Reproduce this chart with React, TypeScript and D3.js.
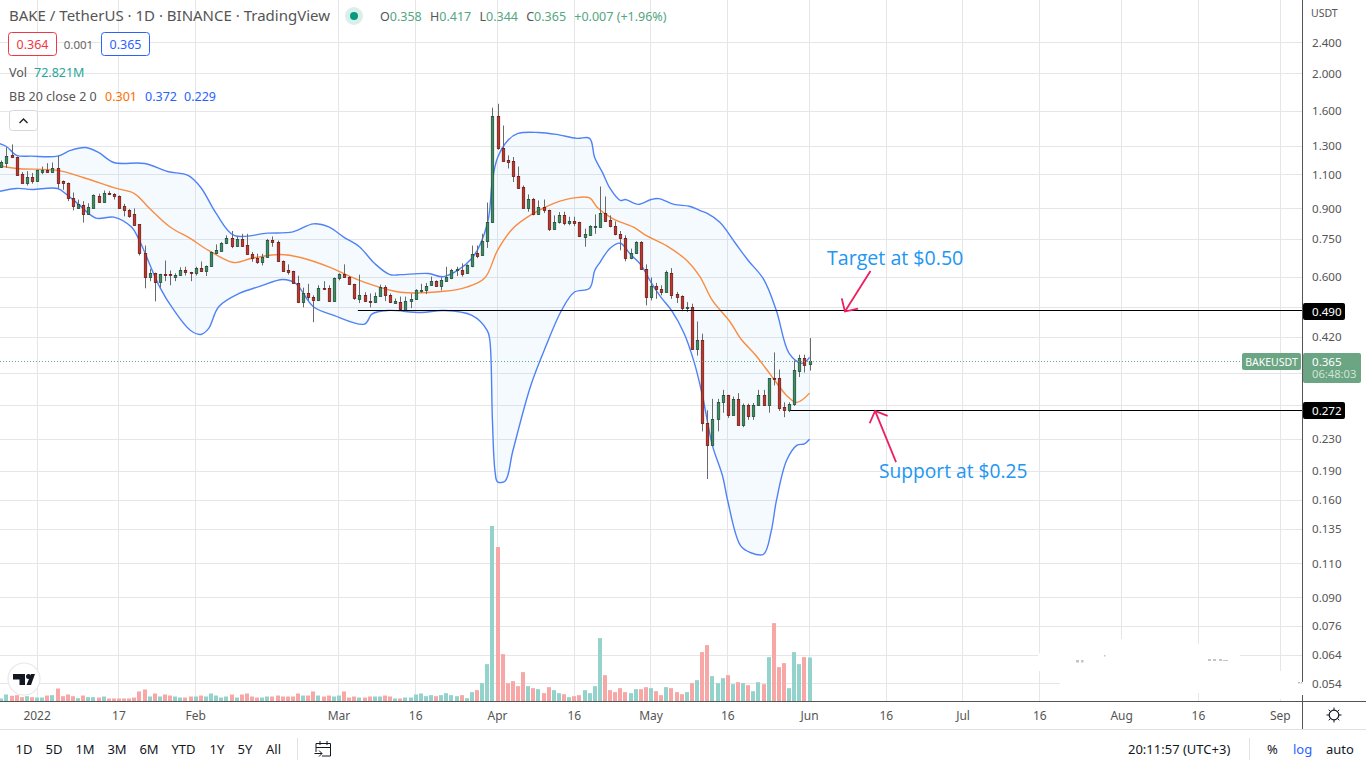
import * as d3 from "d3";

// daily candles, 25 Dec 2021 to 1 Jun 2022
const opens = [
  1.146,1.174,1.230,1.220,1.100,1.047,1.079,1.056,1.116,1.130,1.116,1.138,1.054,1.045,.956,.903,.918,.869,.902,.967,.932,.987,.977,.967,.913,.892,.867,.817,.692,.597,.614,.580,.611,.611,.600,.604,.625,.617,.612,.630,.619,.640,.690,
  .699,.731,.756,.721,.750,.725,.687,.671,.654,.673,.746,.737,.659,.623,.621,.579,.516,.545,.533,.522,.562,.562,.519,.595,.611,.599,.575,.524,.539,.520,.516,.536,.565,.539,.513,.517,.493,.520,.524,.553,.554,.571,.583,
  .568,.584,.594,.623,.624,.612,.638,.688,.680,.740,.827,1.549,1.288,1.193,1.186,1.090,1.017,.902,.952,.869,.907,.892,.795,.827,.862,.824,.832,.827,.758,.766,.806,.806,.874,.837,.811,.773,.756,.668,.690,.735,.628,.532,.566,.559,.548,.614,.541,.534,.498,
  .500,.390,.412,.252,.222,.259,.285,.298,.264,.291,.250,.281,.263,.280,.297,.280,.329,.329,.277,.272,.282,.343,.370,.358,
];
const highs = [
  1.193,1.290,1.312,1.222,1.114,1.120,1.108,1.130,1.151,1.174,1.179,1.227,1.060,1.047,.987,.946,.938,.926,.976,.980,.999,.995,.983,.970,.923,.895,.898,.817,.721,.628,.614,.610,.660,.622,.612,.634,.636,.617,.636,.656,.641,.696,.726,
  .736,.766,.786,.761,.773,.773,.694,.687,.687,.750,.761,.743,.660,.645,.621,.603,.562,.575,.537,.570,.584,.570,.597,.612,.645,.602,.575,.607,.547,.543,.546,.572,.570,.543,.527,.533,.533,.543,.557,.575,.578,.600,.587,
  .597,.636,.628,.636,.649,.645,.721,.721,.773,.930,1.631,1.669,1.467,1.230,1.218,1.151,1.029,.976,.956,.942,.947,.892,.862,.879,.881,.855,.855,.830,.797,.813,.867,1.023,.964,.862,.832,.786,.766,.708,.740,.740,.645,.597,.578,.570,.622,.631,.548,.537,.516,
  .511,.460,.428,.272,.291,.291,.307,.298,.295,.301,.283,.283,.284,.307,.307,.329,.383,.346,.285,.285,.365,.378,.378,.417,
];
const lows = [
  1.142,1.142,1.212,1.092,1.043,1.029,1.040,1.054,1.100,1.112,1.112,1.011,1.003,.938,.888,.897,.826,.864,.900,.930,.930,.972,.947,.900,.857,.850,.815,.680,.560,.584,.518,.562,.584,.570,.584,.603,.604,.584,.604,.618,.602,.636,.684,
  .698,.727,.710,.716,.718,.684,.655,.647,.641,.671,.716,.654,.618,.607,.575,.513,.500,.521,.458,.519,.555,.517,.517,.587,.595,.571,.523,.513,.517,.500,.513,.534,.519,.513,.511,.493,.491,.498,.523,.545,.541,.569,.565,
  .553,.583,.591,.602,.600,.610,.634,.669,.678,.711,.824,1.271,1.188,1.138,1.050,1.009,.902,.881,.862,.867,.874,.786,.792,.821,.813,.813,.809,.758,.716,.763,.773,.803,.830,.803,.766,.701,.657,.665,.687,.625,.506,.521,.526,.537,.547,.526,.513,.489,.487,
  .389,.376,.240,.181,.222,.240,.268,.260,.264,.250,.246,.257,.257,.279,.279,.268,.315,.271,.261,.269,.279,.331,.340,.344,
];
const closes = [
  1.179,1.227,1.218,1.097,1.047,1.079,1.054,1.125,1.130,1.116,1.138,1.047,1.043,.954,.910,.920,.869,.907,.970,.932,.987,.977,.966,.903,.890,.857,.815,.690,.597,.614,.580,.610,.608,.604,.607,.625,.616,.612,.630,.621,.640,.693,.701,
  .733,.756,.718,.750,.721,.687,.669,.654,.675,.746,.736,.657,.621,.618,.579,.517,.545,.532,.523,.562,.557,.519,.595,.611,.597,.575,.528,.539,.519,.516,.536,.565,.539,.516,.520,.495,.520,.527,.555,.555,.569,.586,.566,
  .587,.597,.624,.628,.611,.641,.684,.677,.742,.830,1.549,1.283,1.188,1.181,1.087,1.013,.902,.952,.869,.907,.890,.795,.827,.862,.824,.832,.824,.763,.771,.809,.809,.874,.833,.810,.770,.754,.671,.692,.735,.627,.532,.566,.557,.548,.617,.538,.532,.498,.500,
  .390,.412,.252,.222,.258,.286,.298,.265,.291,.250,.281,.263,.281,.297,.280,.329,.327,.276,.272,.283,.345,.370,.355,.365,
];
// volume in millions
const volumes = [
  5,11.6,9.4,10.5,7.2,8.8,7.2,6.6,6.6,9.9,10.5,21.5,8.8,11.6,8.8,5.5,9.9,7.2,7.2,6.6,8.3,5,5,5,5,5,6.6,16.6,19.9,8.3,13.2,8.3,11.6,9.9,8.3,6.6,6.6,8.3,8.3,9.9,8.3,13.2,9.9,
  6.6,8.3,11.6,6.6,11.6,13.2,8.3,6.6,6.6,8.3,8.3,9.9,8.3,8.3,8.3,13.2,9.9,9.9,16.6,9.9,8.3,9.9,8.3,9.9,16.6,6.6,8.3,6.6,6.6,8.3,8.3,8.3,9.9,8.3,5,5,6.6,6.6,11.6,13.2,
  8.8,10.5,8.8,10.5,13.8,10.5,8.8,10.5,5.5,15.5,18.8,30.4,61.8,290.4,255.6,78.4,30.4,33.7,25.4,48.6,25.4,22.1,20.4,13.8,23.7,18.8,13.8,12.1,7.2,8.8,10.5,18.8,13.8,25.4,104.9,43.6,18.8,15.5,22.1,15.5,13.8,20.4,20.4,23.7,22.1,17.1,10.5,23.7,22.1,15.5,12.1,15.5,
  30.4,35.3,81.7,93.3,42,30.4,38.6,43.6,28.7,32,30.4,27,17.1,32,28.7,73.4,129.7,56.9,63.5,22.1,81.7,61.8,73.4,72.8,
];

// Bollinger bands: day number from the first candle, price
const upperDays = [-0.5,1,3,6,11,13.5,16.5,19,22,28,32.5,36.5,39,42,45.5,52,57,61,64,67,70,73,76,78,83.5,86.5,92,95,96,97,99,101,105,108.5,112.5,115,116,117.5,119,121,122,124.5,127,128.5,131.5,134.5,136.5,138,140.5,143.5,146,149,151.5,154,156.5,158];
const upperBand = [1.32,1.296,1.23,1.224,1.224,1.266,1.288,1.251,1.179,1.172,1.118,1.092,1.017,.872,.766,.776,.782,.82,.805,.757,.716,.648,.607,.607,.611,.6,.669,.819,1.06,1.212,1.343,1.4,1.408,1.392,1.36,1.36,1.212,1.112,1.011,.942,.947,.92,.947,.952,.92,.91,.888,.872,.827,.731,.66,.591,.491,.381,.359,.372];
const lowerDays = [-0.5,3,6,11,13,15,18.5,22,25.5,27,31,33.5,37,39,40.5,42.5,46.5,50.5,55,57.5,61,65,71,72.5,75.5,82,86.5,92,95,95.5,96,96.5,97,98.5,100,103.5,106.5,109.5,112,115,116,117,119,121,123,125,127,129,131,133.5,135.5,137,139,141,142,144.5,146.5,149,150.5,151.5,153.5,155.5,157,158];
const lowerBand = [.993,1.011,1.005,1.011,.97,.923,.848,.853,.803,.743,.563,.497,.436,.426,.441,.502,.543,.566,.59,.577,.502,.477,.453,.481,.491,.485,.491,.477,.436,.411,.256,.19,.178,.179,.214,.315,.399,.491,.547,.56,.622,.652,.71,.731,.684,.644,.58,.53,.491,.428,.359,.299,.221,.184,.159,.122,.117,.116,.133,.159,.202,.221,.223,.229];
const basisDays = [-0.5,3,11,16,22.5,26,29,33,37,40.5,45.5,49,54.5,58.5,64.5,68,71.5,78,86.5,91,94.5,97,100,104,108,112,115,116.5,119.5,123.5,126,130,134,136.5,139,142.5,144.5,147.5,150.5,153.5,155.5,158];
const basisBand = [1.158,1.138,1.125,1.079,1.011,.981,.898,.805,.751,.701,.652,.669,.684,.672,.632,.602,.577,.547,.55,.564,.595,.701,.798,.872,.926,.956,.956,.903,.846,.805,.766,.721,.66,.602,.521,.458,.416,.376,.334,.297,.285,.301];

const priceTicks = [2.4,2,1.6,1.3,1.1,.9,.75,.6,.5,.42,.34,.28,.23,.19,.16,.135,.11,.09,.076,.064,.054];
// these two labels sit fully behind the price tags in the reference
const hiddenLabels = [.5,.34];
const timeTicks: [string, string][] = [
  ["2022-01-01","2022"],["2022-01-17","17"],["2022-02-01","Feb"],["2022-03-01","Mar"],["2022-03-16","16"],["2022-04-01","Apr"],["2022-04-16","16"],["2022-05-01","May"],["2022-05-16","16"],["2022-06-01","Jun"],["2022-06-16","16"],["2022-07-01","Jul"],["2022-07-16","16"],["2022-08-01","Aug"],["2022-08-16","16"],["2022-09-01","Sep"],
];
const rangeButtons: [string, number][] = [["1D",24],["5D",54],["1M",85],["3M",117],["6M",149],["YTD",183.5],["1Y",217],["5Y",245],["All",273.5]];

const W = 1366;
const H = 768;
const AXIS_X = 1302.5;
const BASE_Y = 701.5;
const FONT = "'Noto Sans', sans-serif";
const GRID = "#e6e6e9";
const TEXT = "#555";

const firstDay = new Date(Date.UTC(2021, 11, 25));
const dayAt = (i: number) => new Date(firstDay.getTime() + i * 864e5);

const x = d3.scaleUtc().domain([firstDay, new Date(Date.UTC(2022, 5, 1))]).range([1.3, 809.6]);
const y = d3.scaleLog().domain([0.054, 2.4]).range([683.4, 42.4]);
const volY = d3.scaleLinear().domain([0, 290.4]).range([BASE_Y, 526]);

const bandPoints = (days: number[], vals: number[]) =>
  days.map((d, i) => [x(dayAt(d)), y(vals[i])] as [number, number]);
const line = d3.line();
const smooth = d3.line().curve(d3.curveCatmullRom.alpha(0.5));

const upperPts = bandPoints(upperDays, upperBand);
const lowerPts = bandPoints(lowerDays, lowerBand);
const basisPts = bandPoints(basisDays, basisBand);
const bandFill =
  (smooth(upperPts) ?? "") + "L" + (smooth([...lowerPts].reverse()) ?? "").slice(1) + "Z";

const snap = (v: number) => Math.round(v) + 0.5;

function PriceTag({ cy, label }: { cy: number; label: string }) {
  return (
    <g>
      <rect x={AXIS_X + 0.5} y={cy - 8.5} width={42} height={17} rx={2} fill="#000" />
      <text x={1312} y={cy + 4.5} fontSize={11.6} fill="#fff" fontFamily={FONT}>{label}</text>
    </g>
  );
}

function Arrow({ from, tip }: { from: [number, number]; tip: [number, number] }) {
  const x1 = x(dayAt(from[0]));
  const y1 = y(from[1]);
  const x2 = x(dayAt(tip[0]));
  const y2 = y(tip[1]);
  const a = Math.atan2(y2 - y1, x2 - x1);
  const head = (d: number) => [x2 - 13.5 * Math.cos(a + d), y2 - 13.5 * Math.sin(a + d)] as [number, number];
  return (
    <g stroke="#ec1f5f" strokeWidth={1.8} fill="none">
      <path d={line([[x1, y1], [x2, y2]]) ?? ""} />
      <path d={line([head(0.8), [x2, y2], head(-0.8)]) ?? ""} />
    </g>
  );
}

export default function App() {
  const lastY = y(0.365);
  const targetY = snap(y(0.49) - 0.4);
  const supportY = snap(y(0.272) - 0.4);
  const greenVol = "#93d3cc";
  const redVol = "#f7a8a6";

  return (
    <svg width={W} height={H} style={{ position: "fixed", left: 0, top: 0, background: "#fff" }} fontFamily={FONT}>
      {/* grid */}
      <g stroke={GRID} strokeWidth={1}>
        {priceTicks.map((p) => <line key={p} x1={0} x2={AXIS_X} y1={snap(y(p))} y2={snap(y(p))} />)}
        {timeTicks.map(([d]) => {
          const gx = snap(x(new Date(d + "T00:00:00Z")) - 0.6);
          return <line key={d} x1={gx} x2={gx} y1={0} y2={BASE_Y} />;
        })}
      </g>
      {/* erased watermark patches */}
      <g fill="#fff">
        <rect x={1038} y={653} width={202} height={18} />
        <rect x={1060} y={671} width={238} height={22} />
        <rect x={1110} y={639} width={20} height={62} />
        <rect x={1190} y={644} width={15} height={49} />
        <rect x={1270} y={679} width={20} height={20} />
      </g>
      <g fill="#c4c4c4">
        <rect x={1104} y={655} width={1.5} height={1.5} />
        <rect x={1076} y={660} width={3} height={2.5} />
        <rect x={1081} y={660} width={2.5} height={2.5} />
        <rect x={1208} y={659} width={3} height={2} />
        <rect x={1213} y={659} width={3} height={2} />
        <rect x={1219} y={659} width={3} height={2} />
        <rect x={1223} y={660} width={5} height={1} />
      </g>

      {/* bands */}
      <path d={bandFill} fill="#2196f3" fillOpacity={0.05} />
      <path d={smooth(lowerPts) ?? ""} fill="none" stroke="#4f82f7" strokeWidth={1.4} />
      <path d={smooth(upperPts) ?? ""} fill="none" stroke="#4f82f7" strokeWidth={1.4} />
      <path d={smooth(basisPts) ?? ""} fill="none" stroke="#fb8c3f" strokeWidth={1.4} />

      {/* volume */}
      {volumes.map((v, i) => {
        const cx = x(dayAt(i));
        const top = volY(v);
        return (
          <rect key={i} x={Math.round(cx) - 2} y={top} width={4} height={BASE_Y - top}
            fill={closes[i] >= opens[i] ? greenVol : redVol} />
        );
      })}

      {/* candles */}
      {opens.map((o, i) => {
        const c = closes[i];
        const cx = Math.round(x(dayAt(i))) + 0.5;
        const up = c >= o;
        const top = Math.round(y(Math.max(o, c))) + 0.5;
        const bot = Math.round(y(Math.min(o, c))) + 0.5;
        return (
          <g key={i}>
            <line x1={cx} x2={cx} y1={y(highs[i])} y2={y(lows[i])} stroke="#6a6a6a" />
            <rect x={cx - 1.2} y={top} width={2.4} height={Math.max(bot - top, 1)}
              fill={up ? "#3d8f63" : "#c4352a"} stroke={up ? "#1f4f38" : "#6e1a14"} strokeWidth={0.8} />
          </g>
        );
      })}

      {/* last price line and drawn levels */}
      <line x1={0} x2={1243} y1={snap(lastY)} y2={snap(lastY)} stroke="#6ba583" strokeDasharray="1 2" />
      <line x1={x(dayAt(69.7))} x2={AXIS_X} y1={targetY} y2={targetY} stroke="#000" strokeWidth={1} />
      <line x1={x(dayAt(154.2))} x2={AXIS_X} y1={supportY} y2={supportY} stroke="#000" strokeWidth={1} />
      <Arrow from={[169.9, 0.62]} tip={[164.9, 0.488]} />
      <Arrow from={[174.9, 0.2]} tip={[170.8, 0.271]} />
      <text x={827} y={264.5} fontSize={19.6} fill="#2196f3" fontFamily="'Open Sans', sans-serif">Target at $0.50</text>
      <text x={879} y={478} fontSize={19.2} fill="#2196f3" fontFamily="'Open Sans', sans-serif">Support at $0.25</text>

      {/* axes */}
      <line x1={0} x2={W} y1={BASE_Y} y2={BASE_Y} stroke="#555" />
      <line x1={AXIS_X} x2={AXIS_X} y1={0} y2={682} stroke="#555" />
      <line x1={AXIS_X} x2={AXIS_X} y1={695} y2={729} stroke="#555" />
      <line x1={1298} x2={1302} y1={682.5} y2={682.5} stroke="#bbb" strokeDasharray="2 1" />
      <line x1={0} x2={W} y1={729.5} y2={729.5} stroke="#e0e0e6" />
      <text x={1311} y={17} fontSize={10.5} fill={TEXT}>USDT</text>
      {priceTicks.filter((p) => !hiddenLabels.includes(p)).map((p) => (
        <text key={p} x={1312} y={y(p) + 4.5} fontSize={11.6} fill={TEXT}>{p.toFixed(3)}</text>
      ))}
      {timeTicks.map(([d, label]) => (
        <text key={d} x={x(new Date(d + "T00:00:00Z"))} y={719.5} fontSize={12} fill={TEXT} textAnchor="middle">{label}</text>
      ))}

      {/* price tags */}
      <PriceTag cy={311.5} label="0.490" />
      <PriceTag cy={410.5} label="0.272" />
      <rect x={1242} y={353} width={59} height={17} rx={2} fill="#6ba583" />
      <text x={1271.5} y={365.5} fontSize={10.5} fill="#fff" textAnchor="middle">BAKEUSDT</text>
      <rect x={AXIS_X + 0.5} y={353} width={58} height={30} rx={2} fill="#6ba583" />
      <text x={1312} y={365.5} fontSize={11.6} fill="#fff">0.365</text>
      <text x={1312} y={378} fontSize={11.2} fill="#d0e4d7">06:48:03</text>

      {/* header legend */}
      <text x={9} y={21} fontSize={15} fill="#555">BAKE / TetherUS · 1D · BINANCE · TradingView</text>
      <circle cx={354} cy={16} r={9} fill="#d9f0ea" />
      <circle cx={354} cy={16} r={4} fill="#089981" />
      <text x={380} y={21} fontSize={12.5} fill="#53a67f">
        <tspan fill="#555">O</tspan>0.358 <tspan fill="#555" dx={5}>H</tspan>0.417 <tspan fill="#555" dx={5}>L</tspan>0.344 <tspan fill="#555" dx={5}>C</tspan>0.365 <tspan dx={5}>+0.007 (+1.96%)</tspan>
      </text>
      <rect x={8.5} y={32.5} width={48} height={23} rx={3} fill="#fff" stroke="#f23645" />
      <text x={32.5} y={49} fontSize={12.5} fill="#f23645" textAnchor="middle">0.364</text>
      <text x={78.5} y={49} fontSize={11.5} fill="#666" textAnchor="middle">0.001</text>
      <rect x={101.5} y={32.5} width={48} height={23} rx={3} fill="#fff" stroke="#2962ff" />
      <text x={125.5} y={49} fontSize={12.5} fill="#2962ff" textAnchor="middle">0.365</text>
      <text x={9} y={77} fontSize={12.5} fill="#555">Vol</text>
      <text x={34} y={77} fontSize={12.5} fill="#26a69a">72.821M</text>
      <text x={9} y={101} fontSize={12.5} fill="#555">BB 20 close 2 0</text>
      <text x={105} y={101} fontSize={12.5} fill="#ff6d00">0.301</text>
      <text x={145} y={101} fontSize={12.5} fill="#2962ff">0.372</text>
      <text x={184} y={101} fontSize={12.5} fill="#2962ff">0.229</text>
      <rect x={9.5} y={110.5} width={28} height={20} rx={3} fill="#fff" stroke="#d6d6de" />
      <path d="M19.5 123 L23.5 119 L27.5 123" fill="none" stroke="#222" strokeWidth={1.4} />

      {/* logo */}
      <circle cx={24} cy={679} r={16} fill="#fff" stroke="#e8e8e8" strokeWidth={1.2} />
      <path d="M13 674 H25 V685 H19.5 V679.5 H13 Z" fill="#131722" />
      <circle cx={28.5} cy={676.5} r={2.5} fill="#131722" />
      <path d="M31 674 H35 L31 685 H26.5 Z" fill="#131722" />

      {/* bottom toolbar */}
      {rangeButtons.map(([t, cx]) => (
        <text key={t} x={cx} y={754} fontSize={13} fill="#131722" textAnchor="middle">{t}</text>
      ))}
      <line x1={297.5} x2={297.5} y1={738} y2={760} stroke="#e0e0e6" />
      <g fill="none" stroke="#131722" strokeWidth={1}>
        <path d="M316 752 V743.5 H330.5 V756 H322" />
        <path d="M316 747.5 H330.5 M320 741 V745 M327 741 V745" />
        <path d="M314.5 753.5 H322 M319 750.5 L322 753.5 L319 756.5" />
        <circle cx={1334} cy={715} r={4.8} strokeWidth={1.2} />
        <path d="M1334 707.5 V710 M1334 720 V722.5 M1326.5 715 H1329 M1339 715 H1341.5 M1328.7 709.7 L1330.6 711.6 M1337.4 718.4 L1339.3 720.3 M1328.7 720.3 L1330.6 718.4 M1337.4 711.6 L1339.3 709.7" />
      </g>
      <text x={1128} y={754} fontSize={13} fill="#131722">20:11:57 (UTC+3)</text>
      <line x1={1249.5} x2={1249.5} y1={738} y2={760} stroke="#e0e0e6" />
      <text x={1267} y={754} fontSize={13} fill="#131722">%</text>
      <text x={1293} y={754} fontSize={13} fill="#2962ff">log</text>
      <text x={1326} y={754} fontSize={13} fill="#131722">auto</text>
    </svg>
  );
}
